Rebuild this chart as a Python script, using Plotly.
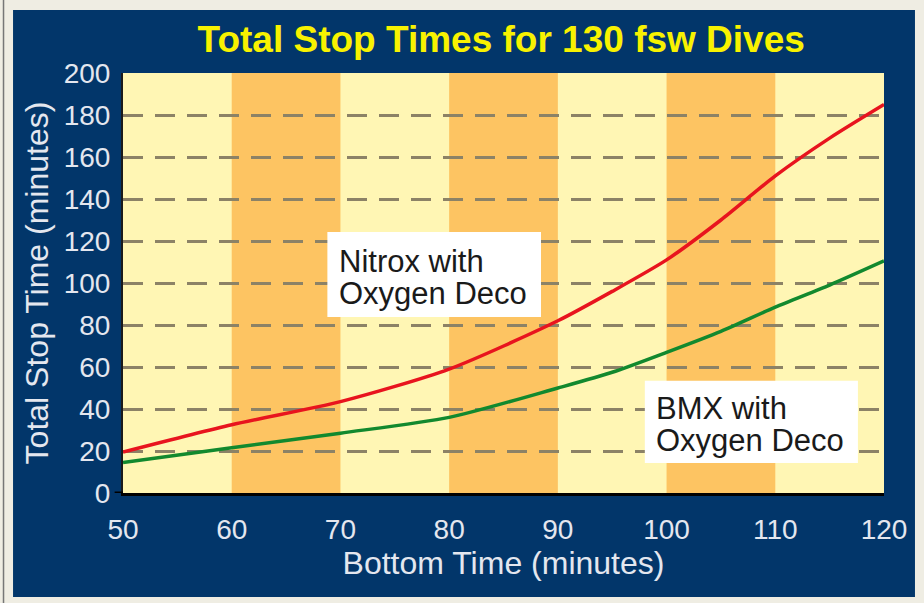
import plotly.graph_objects as go

# ---- data ----
bottom_time = [50, 60, 70, 80, 90, 95, 100, 105, 110, 115, 120]
nitrox_stop = [19.5, 32.5, 43.5, 59, 82, 96, 111, 130, 151, 169, 185]
bmx_stop = [14.5, 21.5, 28.5, 36, 50, 57.5, 67, 77, 88.5, 99, 110.5]
x_ticks = [50, 60, 70, 80, 90, 100, 110, 120]
y_ticks = [0, 20, 40, 60, 80, 100, 120, 140, 160, 180, 200]
band_starts = [60, 80, 100]  # orange bands, each 10 wide

title_text = "Total Stop Times for 130 fsw Dives"
x_title = "Bottom Time (minutes)"
y_title = "Total Stop Time (minutes)"
label_nitrox = ["Nitrox with", "Oxygen Deco"]
label_bmx = ["BMX with", "Oxygen Deco"]

NAVY = "#02366A"
BEIGE = "#EFEDE3"
LIGHT = "#FFF6B4"
ORANGE = "#FDC462"
TICKCOL = "#E4E7EF"
FONT = "Liberation Sans, Arial, sans-serif"

fig = go.Figure()

fig.add_trace(go.Scatter(x=bottom_time, y=nitrox_stop, mode="lines",
                         line=dict(color="#E8141E", width=3.5, shape="spline", smoothing=0.7),
                         hoverinfo="skip"))
fig.add_trace(go.Scatter(x=bottom_time, y=bmx_stop, mode="lines",
                         line=dict(color="#12892E", width=3.5, shape="spline", smoothing=0.7),
                         hoverinfo="skip"))

shapes = []
# navy panel (paper coords)
shapes.append(dict(type="rect", xref="paper", yref="paper", x0=-0.1445, x1=1.0407,
                   y0=-0.2476, y1=1.15, fillcolor=NAVY, line=dict(width=0), layer="below"))
# thin left border line
shapes.append(dict(type="line", xref="paper", yref="paper", x0=-0.157, x1=-0.157,
                   y0=-0.27, y1=1.18, line=dict(color="#777777", width=1.5), layer="below"))
# light plot background
shapes.append(dict(type="rect", xref="x domain", yref="y domain", x0=0, x1=1, y0=0, y1=1,
                   fillcolor=LIGHT, line=dict(width=0), layer="below"))
# orange bands
for s in band_starts:
    shapes.append(dict(type="rect", xref="x", yref="y domain", x0=s, x1=s + 10, y0=0, y1=1,
                       fillcolor=ORANGE, line=dict(width=0), layer="below"))
# white label boxes
shapes.append(dict(type="rect", xref="x", yref="y", x0=68.8, x1=88.45, y0=83.8, y1=124.3,
                   fillcolor="white", line=dict(width=0), layer="above"))
shapes.append(dict(type="rect", xref="x", yref="y", x0=98.0, x1=117.6, y0=14.3, y1=53.5,
                   fillcolor="white", line=dict(width=0), layer="above"))
# axis stub left of origin
shapes.append(dict(type="line", xref="x domain", yref="y", x0=-0.011, x1=0, y0=0, y1=0,
                   line=dict(color="black", width=3), layer="above"))

annotations = []
for (lx, ly_top), lines in [((69.8, 109.4), label_nitrox), ((98.9, 39.4), label_bmx)]:
    for i, t in enumerate(lines):
        annotations.append(dict(x=lx, y=ly_top - i * 15.2, xref="x", yref="y", text=t,
                                showarrow=False, xanchor="left", yanchor="middle", align="left",
                                height=31, borderpad=0, valign="bottom",
                                font=dict(family=FONT, size=31, color="#1a1a1a")))

fig.update_layout(
    width=924, height=603,
    margin=dict(l=123, r=40, t=73, b=110, autoexpand=False),
    paper_bgcolor=BEIGE,
    plot_bgcolor=LIGHT,
    showlegend=False,
    shapes=shapes,
    annotations=annotations,
    title=dict(text="<b>" + title_text + "</b>", x=0.497, xref="paper", y=0.935, yref="container",
               xanchor="center", yanchor="middle",
               font=dict(family=FONT, size=37, color="#F8F200"), automargin=False),
    font=dict(family=FONT),
)

fig.update_xaxes(range=[50, 120], tickvals=x_ticks, showgrid=False, zeroline=False,
                 showline=True, linecolor="black", linewidth=3, ticks="",
                 ticklabelstandoff=9, automargin=False,
                 tickfont=dict(family=FONT, size=28, color=TICKCOL),
                 title=dict(text=x_title, standoff=2,
                            font=dict(family=FONT, size=32, color=TICKCOL)))
fig.update_yaxes(range=[0, 200], tickvals=y_ticks, showgrid=True, gridcolor="#8C8266",
                 gridwidth=3, griddash="20px,12px", zeroline=False,
                 showline=True, linecolor="#1a1a1a", linewidth=2, ticks="",
                 ticklabelstandoff=5, automargin=False,
                 tickfont=dict(family=FONT, size=28, color=TICKCOL),
                 title=dict(text=y_title, standoff=5,
                            font=dict(family=FONT, size=32, color=TICKCOL)))

fig.write_html("out.html", config={"displayModeBar": False},
               post_script="document.body.style.margin='0';")
